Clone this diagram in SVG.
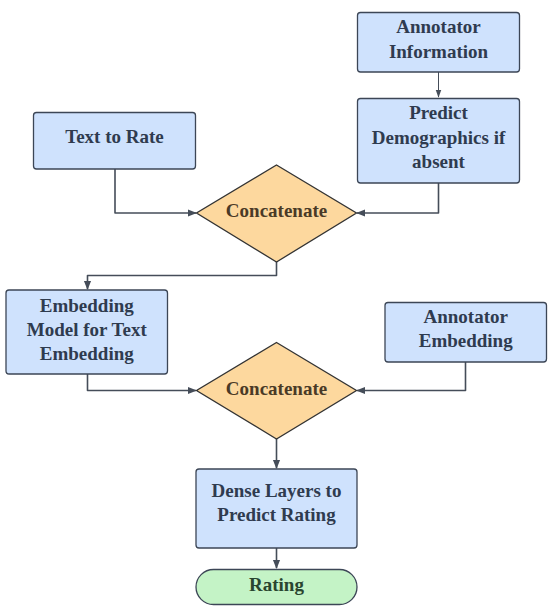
<svg xmlns="http://www.w3.org/2000/svg" width="548" height="609" viewBox="0 0 548 609">
<defs>
<marker id="ah" viewBox="0 0 10 10" refX="9" refY="5" markerWidth="9" markerHeight="9" markerUnits="userSpaceOnUse" orient="auto">
<path d="M0,1 L10,5 L0,9 z" fill="#454d59"/>
</marker>
<marker id="ahs" viewBox="0 0 10 10" refX="9" refY="5" markerWidth="8" markerHeight="8" markerUnits="userSpaceOnUse" orient="auto">
<path d="M0,1.5 L10,5 L0,8.5 z" fill="#454d59"/>
</marker>
</defs>
<style>
.box{fill:#cfe2fd;stroke:#3c4656;stroke-width:1.3}
.dia{fill:#fdd89e;stroke:#333333;stroke-width:1.3}
.term{fill:#c4f3c6;stroke:#3c4656;stroke-width:1.3}
.t{font-family:"Liberation Serif","Times New Roman",serif;font-weight:bold;font-size:19px;text-anchor:middle}
.tb{fill:#2f3b4f}
.td{fill:#4a3a27}
.tg{fill:#29452f}
.c{fill:none;stroke:#454d59;stroke-width:1.6;stroke-linejoin:round}
.cs{fill:none;stroke:#454d59;stroke-width:1}
</style>
<rect width="548" height="609" fill="#ffffff"/>
<g id="connectors">
<path class="cs" d="M438.5,72 L438.5,97" marker-end="url(#ahs)"/>
<path class="c" d="M115,169 L115,213 L196,213" marker-end="url(#ah)"/>
<path class="c" d="M438.5,183 L438.5,213 L357,213" marker-end="url(#ah)"/>
<path class="c" d="M276.5,262 L276.5,275.5 L87.5,275.5 L87.5,289" marker-end="url(#ah)"/>
<path class="c" d="M87.5,374 L87.5,390.5 L196,390.5" marker-end="url(#ah)"/>
<path class="c" d="M465.5,362 L465.5,390.5 L357,390.5" marker-end="url(#ah)"/>
<path class="c" d="M276.5,439 L276.5,468" marker-end="url(#ah)"/>
<path class="c" d="M276.5,548 L276.5,568" marker-end="url(#ah)"/>
</g>
<g id="annotator-information">
<rect class="box" x="357.5" y="12.5" width="162" height="59.5" rx="3"/>
<text class="t tb" x="438.5" y="33">Annotator</text>
<text class="t tb" x="438.5" y="58">Information</text>
</g>
<g id="predict-demographics">
<rect class="box" x="357.5" y="98.5" width="162" height="84.5" rx="3"/>
<text class="t tb" x="438.5" y="119">Predict</text>
<text class="t tb" x="438.5" y="144">Demographics if</text>
<text class="t tb" x="438.5" y="168">absent</text>
</g>
<g id="text-to-rate">
<rect class="box" x="33.5" y="112.5" width="162" height="56.5" rx="3"/>
<text class="t tb" x="114.5" y="143">Text to Rate</text>
</g>
<g id="concatenate-1">
<path class="dia" d="M276.5,165 L356.5,213 L276.5,262 L196.5,213 Z"/>
<text class="t td" x="276.5" y="217">Concatenate</text>
</g>
<g id="embedding-model">
<rect class="box" x="6" y="290" width="161.5" height="84" rx="3"/>
<text class="t tb" x="86.8" y="311.5">Embedding</text>
<text class="t tb" x="86.8" y="336">Model for Text</text>
<text class="t tb" x="86.8" y="360">Embedding</text>
</g>
<g id="annotator-embedding">
<rect class="box" x="385" y="302.5" width="161.5" height="59.5" rx="3"/>
<text class="t tb" x="465.7" y="323">Annotator</text>
<text class="t tb" x="465.7" y="347">Embedding</text>
</g>
<g id="concatenate-2">
<path class="dia" d="M276.5,342.5 L356.5,390.5 L276.5,439 L196.5,390.5 Z"/>
<text class="t td" x="276.5" y="395">Concatenate</text>
</g>
<g id="dense-layers">
<rect class="box" x="196" y="469" width="161" height="79" rx="3"/>
<text class="t tb" x="276.5" y="497">Dense Layers to</text>
<text class="t tb" x="276.5" y="521">Predict Rating</text>
</g>
<g id="rating">
<rect class="term" x="196" y="569.5" width="161" height="35" rx="17.5"/>
<text class="t tg" x="276.5" y="591">Rating</text>
</g>
</svg>
